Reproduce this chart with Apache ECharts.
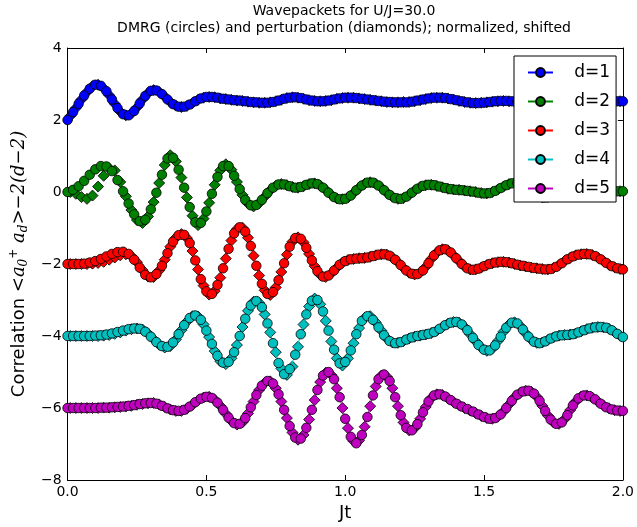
<!DOCTYPE html>
<html><head><meta charset="utf-8">
<script src="https://cdn.jsdelivr.net/npm/echarts@6/dist/echarts.min.js"></script>
<style>html,body{margin:0;padding:0;background:#fff}#c{width:637px;height:527px}</style>
</head><body><div id="c"></div>
<script>
// sampling grid: DMRG circles at t = 0.00, 0.02, ... 2.00 ; perturbation diamonds at t = 0.01, 0.03, ... 1.99
const dmrgStep = 0.02, pertStart = 0.01, pertStep = 0.02;
const seriesNames = ['d=1','d=2','d=3','d=4','d=5'];
const seriesColors = ['#0000ff','#008000','#ff0000','#00bfbf','#bf00bf'];
const xTickLabels = ['0.0','0.5','1.0','1.5','2.0'];
const yTickLabels = ['\u22128','\u22126','\u22124','\u22122','0','2','4'];

const dmrgD1 = [2.00,2.22,2.45,2.68,2.87,2.98,2.95,2.80,2.57,2.33,
 2.16,2.13,2.25,2.46,2.67,2.81,2.82,2.72,2.57,2.44,
 2.37,2.37,2.43,2.52,2.60,2.64,2.64,2.62,2.59,2.57,
 2.55,2.54,2.52,2.50,2.49,2.48,2.48,2.50,2.54,2.59,
 2.62,2.63,2.61,2.57,2.54,2.52,2.52,2.54,2.57,2.60,
 2.62,2.62,2.61,2.59,2.57,2.55,2.53,2.51,2.50,2.49,
 2.49,2.49,2.51,2.54,2.57,2.60,2.62,2.62,2.61,2.58,
 2.55,2.52,2.49,2.47,2.47,2.48,2.50,2.52,2.53,2.53,
 2.52,2.51,2.51,2.52,2.54,2.55,2.55,2.54,2.52,2.50,
 2.49,2.49,2.50,2.52,2.54,2.55,2.55,2.54,2.53,2.52,2.52];
const pertD1 = [2.11,2.33,2.57,2.78,2.94,2.98,2.88,2.69,2.45,2.23,
 2.13,2.18,2.35,2.57,2.75,2.83,2.78,2.65,2.50,2.40,
 2.36,2.39,2.47,2.56,2.62,2.64,2.63,2.60,2.58,2.56,
 2.54,2.53,2.51,2.49,2.48,2.48,2.49,2.52,2.56,2.61,
 2.63,2.62,2.59,2.55,2.53,2.52,2.53,2.55,2.59,2.61,
 2.62,2.62,2.60,2.58,2.56,2.54,2.52,2.50,2.49,2.49,
 2.50,2.50,2.52,2.55,2.58,2.61,2.62,2.62,2.60,2.57,
 2.53,2.50,2.48,2.47,2.48,2.49,2.51,2.52,2.53,2.52,
 2.51,2.51,2.51,2.53,2.54,2.55,2.55,2.53,2.51,2.50,
 2.49,2.49,2.51,2.53,2.54,2.55,2.55,2.54,2.52,2.52];

const dmrgD2 = [0.00,0.06,0.16,0.31,0.48,0.63,0.72,0.71,0.58,0.33,
 0.02,-0.32,-0.62,-0.81,-0.77,-0.48,-0.02,0.48,0.93,0.95,
 0.62,0.12,-0.42,-0.84,-0.86,-0.54,-0.05,0.42,0.72,0.72,
 0.45,0.08,-0.22,-0.37,-0.36,-0.22,-0.03,0.12,0.21,0.21,
 0.16,0.12,0.14,0.20,0.24,0.22,0.12,-0.02,-0.14,-0.20,
 -0.19,-0.10,0.05,0.18,0.26,0.26,0.18,0.05,-0.08,-0.17,
 -0.19,-0.13,-0.02,0.09,0.17,0.20,0.19,0.15,0.11,0.08,
 0.06,0.05,0.03,0.01,-0.02,-0.04,-0.03,0.03,0.11,0.19,
 0.24,0.25,0.19,0.08,-0.05,-0.13,-0.15,-0.11,-0.04,0.03,
 0.07,0.08,0.07,0.05,0.03,0.02,0.02,0.03,0.03,0.02,0.02];
const pertD2 = [0.00,-0.05,-0.14,-0.19,-0.10,0.15,0.45,0.66,0.60,0.28,
 -0.12,-0.50,-0.78,-0.86,-0.68,-0.28,0.25,0.75,1.02,0.85,
 0.40,-0.15,-0.66,-0.92,-0.74,-0.30,0.20,0.60,0.77,0.62,
 0.28,-0.08,-0.32,-0.40,-0.31,-0.13,0.05,0.17,0.22,0.19,
 0.14,0.12,0.16,0.22,0.24,0.18,0.06,-0.08,-0.18,-0.20,
 -0.15,-0.03,0.12,0.23,0.27,0.23,0.12,-0.02,-0.13,-0.19,
 -0.17,-0.08,0.04,0.14,0.19,0.20,0.17,0.13,0.09,0.07,
 0.06,0.04,0.02,0.00,-0.03,-0.04,0.00,0.07,0.15,0.22,
 0.25,0.23,0.14,0.02,-0.10,-0.15,-0.14,-0.08,0.00,0.05,
 0.08,0.08,0.06,0.04,0.02,0.02,0.02,0.03,0.03,0.02];

const dmrgD3 = [-2.00,-2.00,-2.00,-1.99,-1.96,-1.92,-1.86,-1.79,-1.72,-1.67,
 -1.66,-1.72,-1.88,-2.10,-2.30,-2.37,-2.28,-2.05,-1.70,-1.38,
 -1.20,-1.19,-1.42,-1.90,-2.42,-2.76,-2.83,-2.58,-2.12,-1.58,
 -1.15,-0.98,-1.10,-1.50,-2.05,-2.55,-2.83,-2.78,-2.45,-1.98,
 -1.52,-1.28,-1.30,-1.55,-1.90,-2.20,-2.35,-2.32,-2.18,-2.02,
 -1.92,-1.87,-1.85,-1.84,-1.82,-1.78,-1.74,-1.73,-1.77,-1.88,
 -2.03,-2.18,-2.27,-2.28,-2.18,-1.98,-1.76,-1.62,-1.59,-1.68,
 -1.84,-2.00,-2.12,-2.16,-2.13,-2.06,-2.00,-1.96,-1.94,-1.95,
 -1.98,-2.02,-2.05,-2.08,-2.11,-2.13,-2.15,-2.14,-2.08,-1.98,
 -1.87,-1.79,-1.74,-1.72,-1.73,-1.78,-1.87,-1.97,-2.06,-2.12,-2.15];
const pertD3 = [-2.00,-2.00,-2.00,-2.00,-1.99,-1.97,-1.94,-1.88,-1.82,-1.76,
 -1.73,-1.78,-1.95,-2.17,-2.35,-2.36,-2.18,-1.88,-1.52,-1.27,
 -1.17,-1.28,-1.64,-2.15,-2.60,-2.85,-2.75,-2.38,-1.85,-1.35,
 -1.03,-0.99,-1.27,-1.77,-2.32,-2.73,-2.86,-2.65,-2.22,-1.74,
 -1.38,-1.26,-1.40,-1.72,-2.06,-2.30,-2.36,-2.26,-2.10,-1.96,
 -1.89,-1.86,-1.84,-1.83,-1.80,-1.76,-1.73,-1.74,-1.82,-1.95,
 -2.11,-2.24,-2.29,-2.24,-2.08,-1.86,-1.68,-1.59,-1.62,-1.76,
 -1.92,-2.07,-2.15,-2.15,-2.10,-2.03,-1.98,-1.95,-1.94,-1.96,
 -2.00,-2.04,-2.07,-2.10,-2.12,-2.14,-2.15,-2.11,-2.03,-1.92,
 -1.83,-1.76,-1.73,-1.72,-1.75,-1.82,-1.92,-2.02,-2.09,-2.14];

const dmrgD4 = [-4.00,-4.00,-4.00,-4.00,-4.00,-3.99,-3.98,-3.96,-3.93,-3.89,
 -3.85,-3.81,-3.79,-3.80,-3.88,-4.02,-4.17,-4.28,-4.30,-4.18,
 -3.95,-3.70,-3.50,-3.43,-3.55,-3.85,-4.22,-4.55,-4.74,-4.72,
 -4.45,-4.00,-3.52,-3.15,-3.03,-3.20,-3.65,-4.20,-4.75,-5.06,
 -4.92,-4.52,-3.95,-3.40,-3.02,-3.00,-3.32,-3.85,-4.38,-4.76,
 -4.72,-4.40,-3.95,-3.58,-3.45,-3.55,-3.76,-3.98,-4.14,-4.20,
 -4.17,-4.10,-4.04,-4.00,-3.97,-3.94,-3.89,-3.80,-3.70,-3.63,
 -3.61,-3.68,-3.84,-4.05,-4.25,-4.38,-4.40,-4.26,-4.02,-3.77,
 -3.63,-3.65,-3.82,-4.02,-4.16,-4.20,-4.15,-4.07,-4.01,-3.98,
 -3.97,-3.95,-3.90,-3.84,-3.79,-3.76,-3.75,-3.77,-3.84,-3.94,-4.03];
const pertD4 = [-4.00,-4.00,-4.00,-4.00,-4.00,-4.00,-3.99,-3.97,-3.94,-3.90,
 -3.85,-3.81,-3.79,-3.82,-3.93,-4.09,-4.24,-4.32,-4.28,-4.10,
 -3.84,-3.60,-3.45,-3.46,-3.68,-4.03,-4.42,-4.70,-4.78,-4.62,
 -4.25,-3.75,-3.30,-3.05,-3.08,-3.40,-3.90,-4.45,-4.90,-5.08,
 -4.85,-4.30,-3.68,-3.18,-2.96,-3.12,-3.58,-4.15,-4.62,-4.82,
 -4.62,-4.20,-3.78,-3.50,-3.45,-3.62,-3.85,-4.07,-4.18,-4.19,
 -4.14,-4.07,-4.02,-3.99,-3.96,-3.92,-3.85,-3.75,-3.66,-3.61,
 -3.63,-3.75,-3.95,-4.15,-4.32,-4.41,-4.35,-4.14,-3.88,-3.68,
 -3.62,-3.72,-3.93,-4.10,-4.19,-4.18,-4.11,-4.04,-3.99,-3.97,
 -3.96,-3.93,-3.87,-3.81,-3.77,-3.75,-3.76,-3.80,-3.89,-3.99];

const dmrgD5 = [-6.00,-6.00,-6.00,-6.00,-6.00,-6.00,-5.99,-5.99,-5.98,-5.97,
 -5.96,-5.94,-5.92,-5.89,-5.87,-5.86,-5.88,-5.94,-6.01,-6.06,
 -6.08,-6.05,-5.96,-5.84,-5.74,-5.69,-5.72,-5.85,-6.05,-6.27,
 -6.42,-6.44,-6.28,-5.98,-5.64,-5.38,-5.25,-5.32,-5.62,-6.05,
 -6.50,-6.82,-6.85,-6.55,-6.05,-5.50,-5.10,-5.00,-5.20,-5.70,
 -6.30,-6.80,-6.98,-6.75,-6.25,-5.65,-5.20,-5.07,-5.25,-5.70,
 -6.20,-6.55,-6.62,-6.45,-6.12,-5.82,-5.65,-5.62,-5.68,-5.78,
 -5.88,-5.96,-6.03,-6.10,-6.18,-6.25,-6.30,-6.28,-6.18,-6.00,
 -5.80,-5.63,-5.54,-5.52,-5.60,-5.80,-6.08,-6.32,-6.44,-6.40,
 -6.20,-5.93,-5.73,-5.65,-5.67,-5.76,-5.88,-5.98,-6.04,-6.07,-6.08];
const pertD5 = [-6.00,-6.00,-6.00,-6.00,-6.00,-6.00,-5.99,-5.99,-5.98,-5.97,
 -5.96,-5.94,-5.91,-5.89,-5.87,-5.86,-5.90,-5.97,-6.04,-6.08,
 -6.08,-6.02,-5.91,-5.79,-5.71,-5.69,-5.77,-5.94,-6.16,-6.36,
 -6.46,-6.40,-6.15,-5.82,-5.50,-5.30,-5.26,-5.45,-5.82,-6.28,
 -6.68,-6.88,-6.75,-6.32,-5.78,-5.28,-5.02,-5.08,-5.45,-6.00,
 -6.56,-6.92,-6.90,-6.52,-5.95,-5.40,-5.10,-5.13,-5.45,-5.95,
 -6.40,-6.62,-6.56,-6.30,-5.97,-5.72,-5.62,-5.64,-5.73,-5.83,
 -5.92,-6.00,-6.07,-6.14,-6.22,-6.28,-6.30,-6.24,-6.10,-5.90,
 -5.70,-5.58,-5.52,-5.55,-5.69,-5.94,-6.21,-6.40,-6.44,-6.31,
 -6.06,-5.82,-5.68,-5.65,-5.71,-5.82,-5.93,-6.01,-6.06,-6.08];

const dmrgAll = [dmrgD1, dmrgD2, dmrgD3, dmrgD4, dmrgD5];
const pertAll = [pertD1, pertD2, pertD3, pertD4, pertD5];

const FONT = 'DejaVu Sans';
const chart = echarts.init(document.getElementById('c'), null, {renderer: 'canvas'});

const series = [];
for (let k = 0; k < 5; k++) {
  series.push({
    type: 'line', name: seriesNames[k],
    data: dmrgAll[k].map((v, i) => [+(i * dmrgStep).toFixed(2), v]),
    symbol: 'circle', symbolSize: 9.5, showSymbol: true, showAllSymbol: true,
    lineStyle: {color: seriesColors[k], width: 1},
    itemStyle: {color: seriesColors[k], borderColor: '#000', borderWidth: 0.8},
    emphasis: {disabled: true}, animation: false, clip: true
  });
  series.push({
    type: 'scatter', name: 'pert ' + seriesNames[k],
    data: pertAll[k].map((v, i) => [+(pertStart + i * pertStep).toFixed(2), v]),
    symbol: 'diamond', symbolSize: 11,
    itemStyle: {color: seriesColors[k], borderColor: '#000', borderWidth: 0.8, opacity: 1},
    emphasis: {disabled: true}, animation: false, clip: true
  });
}

const axisCommon = {
  axisLine: {show: true, onZero: false, lineStyle: {color: '#000', width: 1}},
  axisTick: {show: true, inside: true, length: 5, lineStyle: {color: '#000', width: 1}},
  splitLine: {show: false}
};

chart.setOption({
  animation: false,
  backgroundColor: '#fff',
  title: {
    text: 'Wavepackets for U/J=30.0\nDMRG (circles) and perturbation (diamonds); normalized, shifted',
    left: 344, top: 3, padding: 0, textAlign: 'center',
    textStyle: {fontFamily: FONT, fontSize: 14, fontWeight: 'normal', color: '#000', lineHeight: 17}
  },
  grid: {left: 64, right: 13, top: 48, bottom: 47, containLabel: false},
  legend: {
    data: seriesNames, orient: 'vertical', left: 514, top: 56,
    backgroundColor: '#fff', borderColor: '#000', borderWidth: 1, borderRadius: 0,
    padding: [8, 6, 5, 13], itemWidth: 25, itemHeight: 11, itemGap: 12,
    formatter: n => '   ' + n,
    textStyle: {fontFamily: FONT, fontSize: 17, color: '#000', lineHeight: 14},
    selectedMode: false
  },
  xAxis: [
    Object.assign({
      type: 'value', min: 0, max: 2, interval: 0.5, position: 'bottom',
      axisLabel: {fontFamily: FONT, fontSize: 14, color: '#000', margin: 5,
        formatter: v => xTickLabels[Math.round(v / 0.5)]},
      name: 'Jt', nameLocation: 'middle', nameGap: 19,
      nameTextStyle: {fontFamily: FONT, fontSize: 18, color: '#000'}
    }, axisCommon),
    Object.assign({
      type: 'value', min: 0, max: 2, interval: 0.5, position: 'top',
      axisLabel: {show: false}
    }, axisCommon)
  ],
  yAxis: [
    Object.assign({
      type: 'value', min: -8, max: 4, interval: 2, position: 'left',
      axisLabel: {fontFamily: FONT, fontSize: 14, color: '#000', margin: 6,
        formatter: v => yTickLabels[Math.round((v + 8) / 2)]},
      name: 'Correlation {m|<a}{s|0}{p|+}{m| a}{s|d}{m|>\u22122(d\u22122)}',
      nameLocation: 'middle', nameGap: 33,
      nameTextStyle: {
        fontFamily: FONT, fontSize: 18, color: '#000', lineHeight: 22,
        rich: {
          m: {fontFamily: 'DejaVu Serif', fontStyle: 'italic', fontSize: 18, color: '#000', lineHeight: 22},
          s: {fontFamily: 'DejaVu Serif', fontStyle: 'italic', fontSize: 12, color: '#000', lineHeight: 12, verticalAlign: 'bottom'},
          p: {fontFamily: 'DejaVu Serif', fontSize: 12, color: '#000', lineHeight: 12, verticalAlign: 'top'}
        }
      }
    }, axisCommon),
    Object.assign({
      type: 'value', min: -8, max: 4, interval: 2, position: 'right',
      axisLabel: {show: false}
    }, axisCommon)
  ],
  series: series
});
</script></body></html>
